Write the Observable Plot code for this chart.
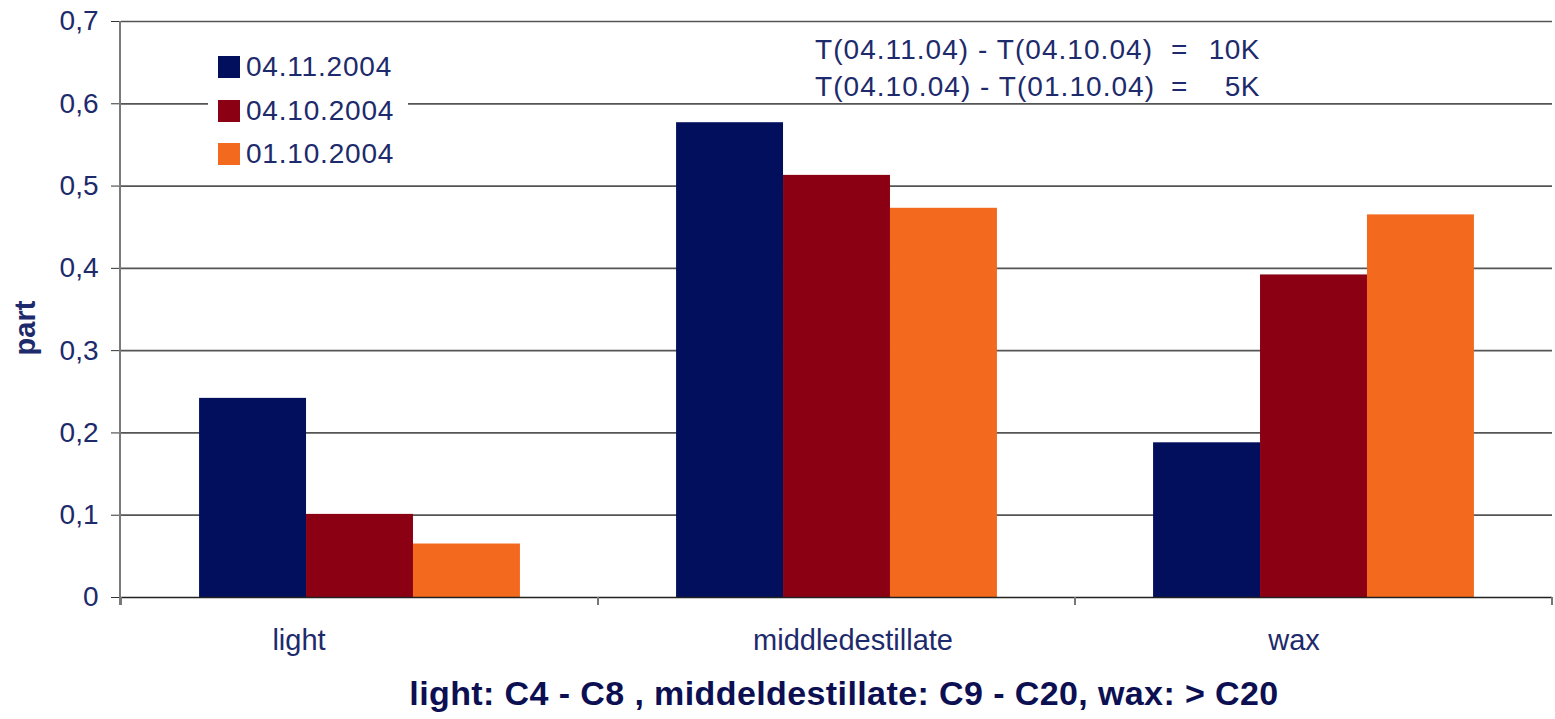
<!DOCTYPE html>
<html>
<head>
<meta charset="utf-8">
<script src="https://cdn.jsdelivr.net/npm/d3@7"></script>
<script src="https://cdn.jsdelivr.net/npm/@observablehq/plot@0.6"></script>
<style>
  body { margin: 0; background: #fff; font-family: "Liberation Sans", Arial, Helvetica, sans-serif; }
  #wrap { position: relative; width: 1555px; height: 719px; overflow: hidden; background: #fff; }
  #wrap svg { position: absolute; left: 0; top: 0; }
  .legend { position: absolute; left: 208px; top: 38px; width: 200px; height: 140px; background: #fff; }
  .legend .item { position: absolute; left: 10px; height: 22px; display: flex; align-items: center; }
  .legend .sw { width: 22px; height: 22px; margin-right: 6px; }
  .legend .lab { font-size: 28px; letter-spacing: 0.8px; color: #1d2a6b; line-height: 22px; }
  .note { position: absolute; left: 815px; top: 31px; font-size: 28px; letter-spacing: 1.05px; color: #1d2a6b;
          display: grid; grid-template-columns: 356px 31px 58px; line-height: 37px; white-space: pre; }
  .note .v { text-align: right; letter-spacing: 0.5px; }
  .ylab { position: absolute; left: 25px; top: 328px; transform: translate(-50%, -50%) rotate(-90deg);
          font-size: 29px; font-weight: bold; color: #1d2a6b; white-space: nowrap; }
  .caption { position: absolute; left: 0; width: 1555px; top: 676px; text-align: center; padding-left: 133px; box-sizing: border-box;
             font-size: 34px; line-height: 34px; font-weight: bold; letter-spacing: 0.4px; color: #0c0f52; white-space: pre; }
</style>
</head>
<body>
<div id="wrap"></div>
<script>
// ---- data ----
const categories = ["light", "middledestillate", "wax"];
const series = ["04.11.2004", "04.10.2004", "01.10.2004"];
const values_04_11_2004 = [0.242, 0.577, 0.188];
const values_04_10_2004 = [0.101, 0.513, 0.392];
const values_01_10_2004 = [0.065, 0.473, 0.465];
const yTicks = [0, 0.1, 0.2, 0.3, 0.4, 0.5, 0.6, 0.7];
const yLabel = "part";
const noteLines = [
  ["T(04.11.04) - T(04.10.04)", "=", "10K"],
  ["T(04.10.04) - T(01.10.04)", "=", "5K"]
];
const captionText = "light: C4 - C8 , middeldestillate: C9 - C20, wax: > C20";

// ---- styles ----
const colors = ["#010f5c", "#8c0013", "#f3691d"];
const textColor = "#1d2a6b";
const labelShift = {"light": -61, "middledestillate": 16, "wax": -20};

const seriesValues = [values_04_11_2004, values_04_10_2004, values_01_10_2004];
const rows = categories.flatMap((c, i) => series.map((s, j) => ({category: c, series: s, value: seriesValues[j][i]})));
const fmt = d => d === 0 ? "0" : d.toFixed(1).replace(".", ",");

const plot = Plot.plot({
  width: 1555,
  height: 668,
  marginTop: 21,
  marginBottom: 71,
  marginLeft: 120,
  marginRight: 2,
  style: {fontFamily: "'Liberation Sans', Arial, sans-serif", fontSize: "28px", color: textColor, background: "transparent"},
  fx: {domain: categories, padding: 0, axis: null, label: null},
  x: {domain: series, paddingInner: 0, paddingOuter: 0.73, axis: null, round: false},
  y: {domain: [0, 0.7]},
  color: {domain: series, range: colors},
  marks: [
    Plot.ruleY(yTicks.filter(d => d > 0), {stroke: "#555", strokeWidth: 1.7}),
    Plot.barY(rows, {fx: "category", x: "series", y: "value", fill: "series"}),
    Plot.ruleY([0], {stroke: "#222", strokeWidth: 1.7}),
    Plot.axisY({ticks: yTicks, tickSize: 10, tickPadding: 13, tickFormat: fmt, stroke: "#333", fill: textColor, label: null, fontSize: 28}),
    ...categories.map(c => Plot.text([c], {fx: d => d, text: d => d, frameAnchor: "bottom", lineAnchor: "middle", dy: 43, dx: labelShift[c], fill: textColor, fontSize: 29}))
  ]
});

// axis line and category boundary ticks, positioned via Plot's scales
const ys = plot.scale("y"), fxs = plot.scale("fx");
const svg = d3.select(plot);
const left = fxs.range[0];
svg.append("line").attr("x1", left).attr("x2", left)
  .attr("y1", ys.apply(0) + 8).attr("y2", ys.apply(0.7))
  .attr("stroke", "#7a7a7a").attr("stroke-width", 2);
const bounds = categories.map(c => fxs.apply(c)).concat([fxs.apply(categories[categories.length - 1]) + fxs.bandwidth]);
svg.selectAll("line.bt").data(bounds).join("line").attr("class", "bt")
  .attr("x1", d => d).attr("x2", d => d)
  .attr("y1", ys.apply(0)).attr("y2", ys.apply(0) + 8)
  .attr("stroke", "#777").attr("stroke-width", 2);

const wrap = document.getElementById("wrap");
wrap.appendChild(plot);

// legend
const legend = document.createElement("div");
legend.className = "legend";
series.forEach((s, i) => {
  const it = document.createElement("div");
  it.className = "item";
  it.style.top = (18 + i * 43.5) + "px";
  it.innerHTML = `<div class="sw" style="background:${colors[i]}"></div><div class="lab">${s}</div>`;
  legend.appendChild(it);
});
wrap.appendChild(legend);

// annotation
const note = document.createElement("div");
note.className = "note";
noteLines.forEach(([a, b, c]) => {
  note.insertAdjacentHTML("beforeend", `<span>${a}</span><span>${b}</span><span class="v">${c}</span>`);
});
wrap.appendChild(note);

// y label
const yl = document.createElement("div");
yl.className = "ylab";
yl.textContent = yLabel;
wrap.appendChild(yl);

// caption
const cap = document.createElement("div");
cap.className = "caption";
cap.textContent = captionText;
wrap.appendChild(cap);
</script>
</body>
</html>
